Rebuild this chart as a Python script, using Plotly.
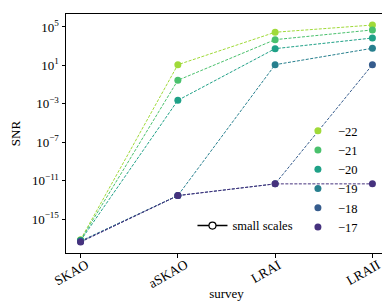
import plotly.graph_objects as go

surveys = ["SKAO", "aSKAO", "LRAI", "LRAII"]
labels = ["\u221222", "\u221221", "\u221220", "\u221219", "\u221218", "\u221217"]
colors = ["#a0da39", "#4ac16d", "#1fa187", "#277f8e", "#365c8d", "#46327e"]
# log10(SNR) per series
log_snr = [
    [-17.15, 1.07, 4.45, 5.2],
    [-17.2, -0.55, 3.68, 4.69],
    [-17.25, -2.64, 2.74, 3.85],
    [-17.3, -12.56, 1.07, 2.78],
    [-17.35, -12.56, -11.34, 1.07],
    [-17.4, -12.56, -11.34, -11.34],
]
ytick_exp = [5, 1, -3, -7, -11, -15]

FONT = "Liberation Serif, Times New Roman, serif"
fig = go.Figure()
for lab, col, ys in zip(labels, colors, log_snr):
    fig.add_trace(go.Scatter(
        x=surveys, y=[10 ** v for v in ys], mode="lines",
        line=dict(color=col, width=1, dash="3px,1.5px"),
        showlegend=False, hoverinfo="skip"))
for lab, col, ys in zip(labels, colors, log_snr):
    fig.add_trace(go.Scatter(
        x=surveys, y=[10 ** v for v in ys], mode="markers",
        marker=dict(color=col, size=7), name=lab, legend="legend"))

fig.add_trace(go.Scatter(
    x=[None], y=[None], mode="lines+markers", name="small scales",
    line=dict(color="black", width=1.5),
    marker=dict(color="white", size=7, line=dict(color="black", width=1.2)),
    legend="legend2"))

def fmt(e):
    s = str(e).replace("-", "\u2212")
    return f"10<sup>{s}</sup>"

# rotated, centred category labels (matplotlib style)
for s in surveys:
    fig.add_annotation(x=s, xref="x", y=0, yref="paper", text=s,
                       textangle=-30, showarrow=False,
                       xanchor="center", yanchor="top", yshift=-1, xshift=-9,
                       font=dict(family=FONT, size=13.5, color="black"))

fig.update_layout(
    width=390, height=307,
    margin=dict(l=58, r=11, t=6, b=62),
    paper_bgcolor="white", plot_bgcolor="white",
    font=dict(family=FONT, size=13, color="black"),
    xaxis=dict(
        type="category", range=[-0.15, 3.15], showticklabels=False,
        showline=True, linecolor="black", linewidth=1, mirror=True,
        ticks="outside", ticklen=3.5, tickcolor="black", showgrid=False,
        automargin=False,
        title=dict(text="survey", font=dict(size=13), standoff=32)),
    yaxis=dict(
        type="log", range=[-18.54, 6.35],
        tickvals=[10 ** e for e in ytick_exp], ticktext=[fmt(e) for e in ytick_exp],
        showline=True, linecolor="black", linewidth=1, mirror=True,
        ticks="outside", ticklen=3.5, tickcolor="black", showgrid=False,
        zeroline=False, automargin=False,
        title=dict(text="SNR", font=dict(size=13), standoff=18)),
    legend=dict(x=0.7225, y=0.573, xanchor="left", yanchor="top",
                bgcolor="rgba(0,0,0,0)", font=dict(size=12.5), tracegroupgap=0),
    legend2=dict(x=0.394, y=0.176, xanchor="left", yanchor="top",
                 bgcolor="rgba(0,0,0,0)", font=dict(size=12.5)),
)

fig.write_html("out.html")
